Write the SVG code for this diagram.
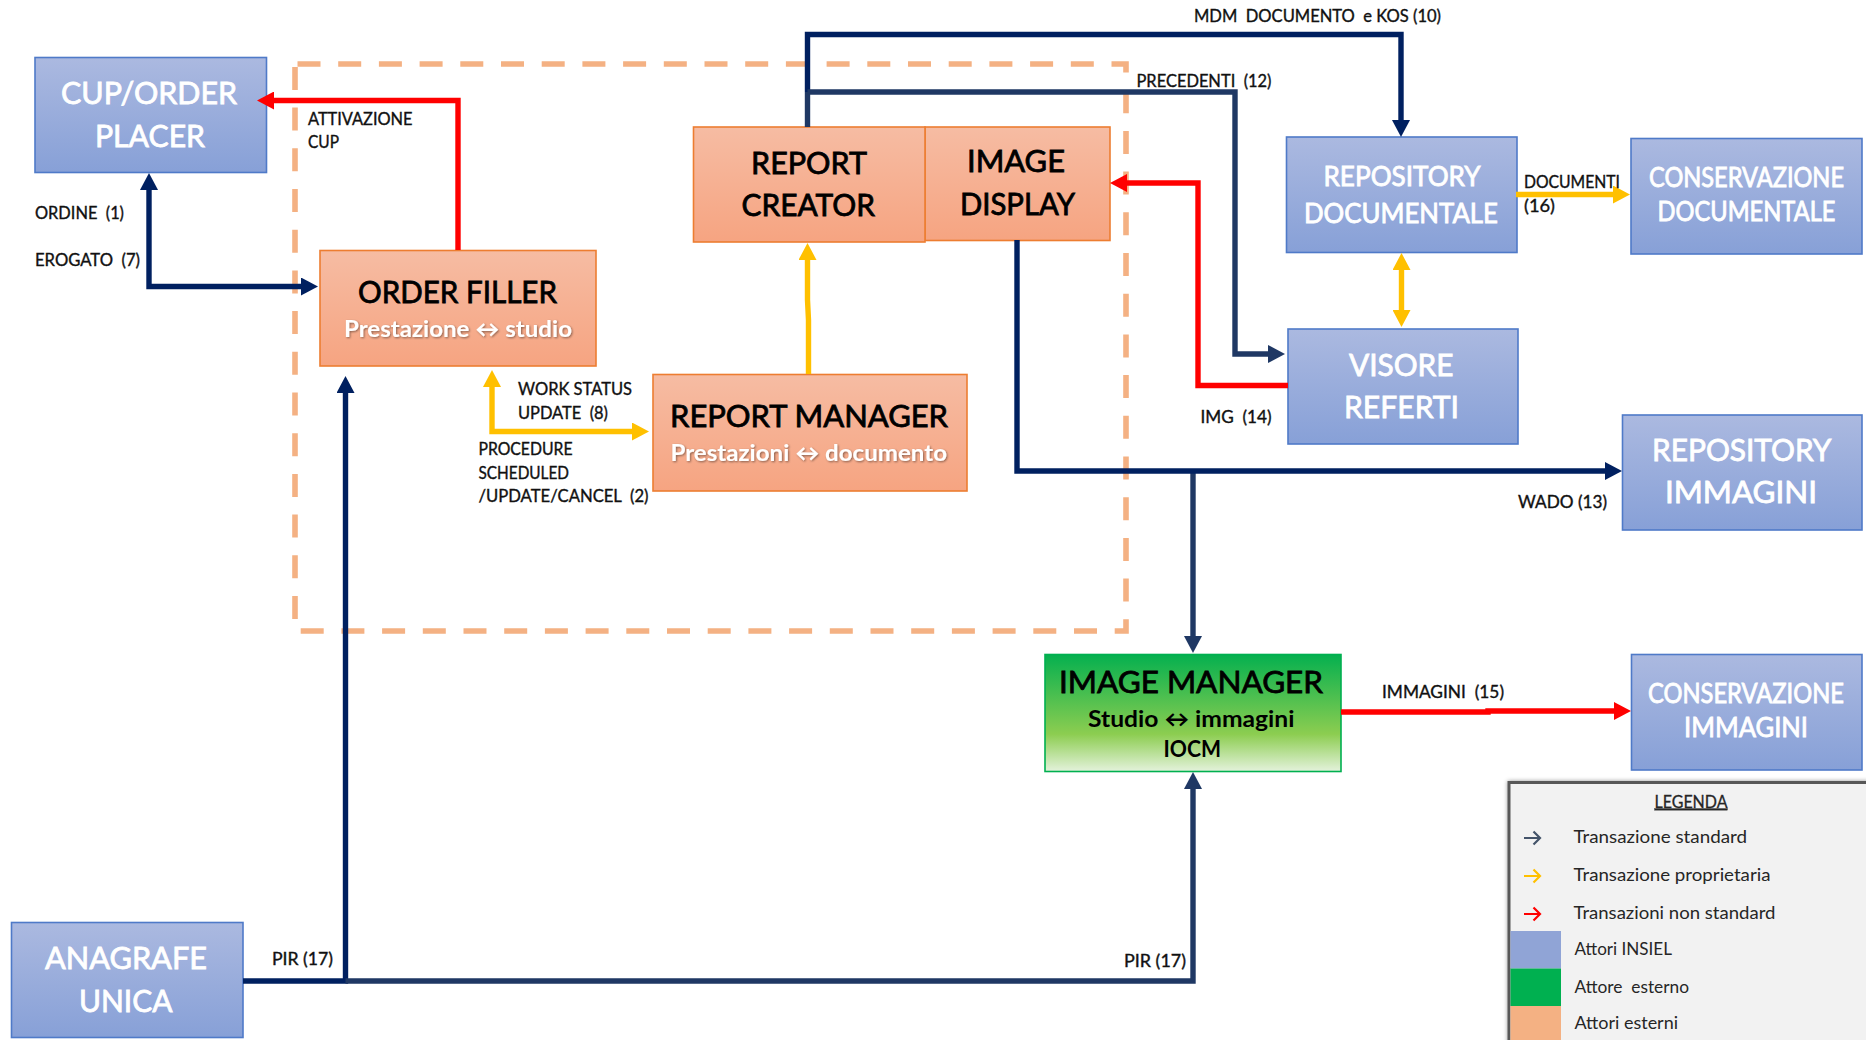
<svg xmlns="http://www.w3.org/2000/svg" width="1866" height="1040" viewBox="0 0 1866 1040">
<style>
text{font-family:"Lato","Open Sans","Liberation Sans",sans-serif;}
.box{stroke-width:1.6;}
.blue{fill:url(#gb);stroke:#4f7ac8;}
.orange{fill:url(#go);stroke:#ed7d31;}
.green{fill:url(#gg);stroke:#00b050;}
.w{fill:#fff;stroke:#fff;stroke-width:0.8;font-weight:400;}
.k{fill:#000;stroke:#000;stroke-width:0.8;font-weight:400;}
.sub{fill:#fff;font-size:22.5px;font-weight:700;filter:url(#sh);}
.l{fill:#111;stroke:#111;stroke-width:0.35;font-size:16.5px;font-weight:400;}
.lg{fill:#262626;font-size:17px;font-weight:400;}
.c{fill:none;stroke-width:5.4;}
.navy{stroke:#002060;}
.slate{stroke:#1f3864;}
.yel{stroke:#ffc000;}
.red{stroke:#ff0000;}
.chev{fill:none;stroke-width:2.2;}
</style>
<defs>
<linearGradient id="gb" x1="0" y1="0" x2="0" y2="1"><stop offset="0" stop-color="#abb9e0"/><stop offset="1" stop-color="#87a0d7"/></linearGradient>
<linearGradient id="go" x1="0" y1="0" x2="0" y2="1"><stop offset="0" stop-color="#f6bca3"/><stop offset="1" stop-color="#f6a481"/></linearGradient>
<linearGradient id="gg" x1="0" y1="0" x2="0" y2="1"><stop offset="0" stop-color="#05b04f"/><stop offset="0.68" stop-color="#8ccd50"/><stop offset="1" stop-color="#e4f2dc"/></linearGradient>
<filter id="sh" x="-10%" y="-30%" width="120%" height="160%"><feDropShadow dx="1" dy="1" stdDeviation="0.8" flood-color="#000" flood-opacity="0.45"/></filter>
<filter id="ls" x="-5%" y="-5%" width="110%" height="110%"><feDropShadow dx="0" dy="0" stdDeviation="2" flood-color="#000" flood-opacity="0.4"/></filter>
<marker id="an" markerUnits="userSpaceOnUse" markerWidth="18" markerHeight="18" refX="1" refY="9" orient="auto-start-reverse"><path d="M0 0L17 9L0 18Z" fill="#002060"/></marker>
<marker id="as" markerUnits="userSpaceOnUse" markerWidth="18" markerHeight="18" refX="1" refY="9" orient="auto-start-reverse"><path d="M0 0L17 9L0 18Z" fill="#1f3864"/></marker>
<marker id="ay" markerUnits="userSpaceOnUse" markerWidth="18" markerHeight="18" refX="1" refY="9" orient="auto-start-reverse"><path d="M0 0L17 9L0 18Z" fill="#ffc000"/></marker>
<marker id="ar" markerUnits="userSpaceOnUse" markerWidth="18" markerHeight="18" refX="1" refY="9" orient="auto-start-reverse"><path d="M0 0L17 9L0 18Z" fill="#ff0000"/></marker>
</defs>
<rect width="1866" height="1040" fill="#fff"/>
<g id="dashed-boundary"><path d="M297.500 64H1126V631H295V64" fill="none" stroke="#f4b183" stroke-width="5.6" stroke-dasharray="23 17.7"/></g>

<g id="cup-order-placer"><rect class="box blue" x="35" y="57.500" width="231.500" height="115"/>
<text class="w" font-size="30" x="61" y="104" textLength="176" lengthAdjust="spacingAndGlyphs">CUP/ORDER</text>
<text class="w" font-size="30" x="95" y="146.500" textLength="110" lengthAdjust="spacingAndGlyphs">PLACER</text></g>
<g id="order-filler"><rect class="box orange" x="320" y="250.500" width="276" height="115.500"/>
<text class="k" font-size="30" x="358" y="303" textLength="199" lengthAdjust="spacingAndGlyphs">ORDER FILLER</text>
<text class="sub" x="344" y="337" textLength="228" lengthAdjust="spacingAndGlyphs">Prestazione ↔ studio</text></g>
<g id="report-manager"><rect class="box orange" x="653" y="374.500" width="314" height="116.500"/>
<text class="k" font-size="30" x="670" y="427" textLength="278" lengthAdjust="spacingAndGlyphs">REPORT MANAGER</text>
<text class="sub" x="670.500" y="461" textLength="276.500" lengthAdjust="spacingAndGlyphs">Prestazioni ↔ documento</text></g>
<g id="image-display"><rect class="box orange" x="925" y="127" width="185" height="113.500"/>
<text class="k" font-size="30" x="967" y="172" textLength="98" lengthAdjust="spacingAndGlyphs">IMAGE</text>
<text class="k" font-size="30" x="960" y="215" textLength="115" lengthAdjust="spacingAndGlyphs">DISPLAY</text></g>
<g id="report-creator"><rect class="box orange" x="693.500" y="127" width="231.500" height="115"/>
<text class="k" font-size="30" x="751" y="174" textLength="116" lengthAdjust="spacingAndGlyphs">REPORT</text>
<text class="k" font-size="30" x="741.500" y="216" textLength="133.500" lengthAdjust="spacingAndGlyphs">CREATOR</text></g>
<g id="repository-documentale"><rect class="box blue" x="1286.500" y="137" width="230.500" height="115.500"/>
<text class="w" font-size="26" x="1323.500" y="186" textLength="157" lengthAdjust="spacingAndGlyphs">REPOSITORY</text>
<text class="w" font-size="26" x="1304" y="223" textLength="194" lengthAdjust="spacingAndGlyphs">DOCUMENTALE</text></g>
<g id="conservazione-documentale"><rect class="box blue" x="1631" y="138.500" width="231" height="115.500"/>
<text class="w" font-size="26" x="1649" y="187" textLength="195" lengthAdjust="spacingAndGlyphs">CONSERVAZIONE</text>
<text class="w" font-size="26" x="1657.500" y="220.500" textLength="178" lengthAdjust="spacingAndGlyphs">DOCUMENTALE</text></g>
<g id="visore-referti"><rect class="box blue" x="1288" y="329" width="230" height="115"/>
<text class="w" font-size="30" x="1349" y="375.500" textLength="104.500" lengthAdjust="spacingAndGlyphs">VISORE</text>
<text class="w" font-size="30" x="1344" y="418" textLength="115" lengthAdjust="spacingAndGlyphs">REFERTI</text></g>
<g id="repository-immagini"><rect class="box blue" x="1622.500" y="415" width="239.500" height="115"/>
<text class="w" font-size="30" x="1652" y="460.500" textLength="179.500" lengthAdjust="spacingAndGlyphs">REPOSITORY</text>
<text class="w" font-size="30" x="1665" y="502.500" textLength="152" lengthAdjust="spacingAndGlyphs">IMMAGINI</text></g>
<g id="image-manager"><rect class="box green" x="1045" y="654.500" width="296" height="117"/>
<text class="k" font-size="30" x="1059" y="692.500" textLength="264" lengthAdjust="spacingAndGlyphs">IMAGE MANAGER</text>
<text fill="#000" font-size="22.500" font-weight="700" x="1088" y="726.500" textLength="206.500" lengthAdjust="spacingAndGlyphs">Studio ↔ immagini</text>
<text fill="#000" font-size="22.500" font-weight="700" x="1163.500" y="757" textLength="57.500" lengthAdjust="spacingAndGlyphs">IOCM</text></g>
<g id="conservazione-immagini"><rect class="box blue" x="1631.500" y="654.500" width="230.500" height="115.500"/>
<text class="w" font-size="26" x="1648" y="703" textLength="196" lengthAdjust="spacingAndGlyphs">CONSERVAZIONE</text>
<text class="w" font-size="26" x="1684" y="736.500" textLength="124" lengthAdjust="spacingAndGlyphs">IMMAGINI</text></g>
<g id="anagrafe-unica"><rect class="box blue" x="11.500" y="922.500" width="231.500" height="115"/>
<text class="w" font-size="30" x="45" y="969" textLength="162" lengthAdjust="spacingAndGlyphs">ANAGRAFE</text>
<text class="w" font-size="30" x="79" y="1011.500" textLength="93.500" lengthAdjust="spacingAndGlyphs">UNICA</text></g>

<g id="connectors">
<path class="c red" d="M458 250V100.500H273" marker-end="url(#ar)"/>
<path class="c navy" d="M149 189V286.500H302" marker-start="url(#an)" marker-end="url(#an)"/>
<path class="c navy" d="M345.500 392V981H243" marker-start="url(#an)"/>
<path class="c slate" d="M345.500 981H1193V788" marker-end="url(#as)"/>
<path class="c yel" d="M492 386V431.500H633" marker-start="url(#ay)" marker-end="url(#ay)"/>
<path class="c yel" d="M808.500 374V320L807.500 300V259" marker-end="url(#ay)"/>
<path class="c slate" d="M807.500 127V92"/>
<path class="c navy" d="M807.500 92V34.500H1401V121" marker-end="url(#an)"/>
<path class="c slate" d="M807.500 92H1235V354H1269" marker-end="url(#as)"/>
<path class="c red" d="M1288 385.500H1198V183H1126" marker-end="url(#ar)"/>
<path class="c slate" d="M1193 471V637" marker-end="url(#as)"/>
<path class="c navy" d="M1017 240V471H1606" marker-end="url(#an)"/>
<path class="c yel" d="M1401.500 269V311" marker-start="url(#ay)" marker-end="url(#ay)"/>
<path class="c yel" d="M1516 194.500H1614" marker-end="url(#ay)"/>
<path class="c red" d="M1341 712H1488V711H1615" marker-end="url(#ar)"/>
</g>
<g id="connector-labels">
<text class="l" x="308" y="125" textLength="104.500" lengthAdjust="spacingAndGlyphs">ATTIVAZIONE</text>
<text class="l" x="308" y="148" textLength="31" lengthAdjust="spacingAndGlyphs">CUP</text>
<text class="l" x="35" y="219" textLength="89" lengthAdjust="spacingAndGlyphs" xml:space="preserve">ORDINE  (1)</text>
<text class="l" x="35" y="266" textLength="105" lengthAdjust="spacingAndGlyphs" xml:space="preserve">EROGATO  (7)</text>
<text class="l" x="518" y="395" textLength="114" lengthAdjust="spacingAndGlyphs">WORK STATUS</text>
<text class="l" x="518" y="419" textLength="90" lengthAdjust="spacingAndGlyphs" xml:space="preserve">UPDATE  (8)</text>
<text class="l" x="478.500" y="455" textLength="94" lengthAdjust="spacingAndGlyphs">PROCEDURE</text>
<text class="l" x="478.500" y="478.500" textLength="90.500" lengthAdjust="spacingAndGlyphs">SCHEDULED</text>
<text class="l" x="478.500" y="502" textLength="170" lengthAdjust="spacingAndGlyphs" xml:space="preserve">/UPDATE/CANCEL  (2)</text>
<text class="l" x="1194" y="21.500" textLength="247" lengthAdjust="spacingAndGlyphs" xml:space="preserve">MDM  DOCUMENTO  e KOS (10)</text>
<text class="l" x="1136.500" y="87" textLength="135" lengthAdjust="spacingAndGlyphs" xml:space="preserve">PRECEDENTI  (12)</text>
<text class="l" x="1200.500" y="423" textLength="71" lengthAdjust="spacingAndGlyphs" xml:space="preserve">IMG  (14)</text>
<text class="l" x="1524" y="187.500" textLength="96" lengthAdjust="spacingAndGlyphs">DOCUMENTI</text>
<text class="l" x="1524" y="211.500" textLength="31" lengthAdjust="spacingAndGlyphs">(16)</text>
<text class="l" x="1518" y="508" textLength="89" lengthAdjust="spacingAndGlyphs">WADO (13)</text>
<text class="l" x="1382" y="698" textLength="122" lengthAdjust="spacingAndGlyphs" xml:space="preserve">IMMAGINI  (15)</text>
<text class="l" x="272" y="965" textLength="61" lengthAdjust="spacingAndGlyphs">PIR (17)</text>
<text class="l" x="1124" y="966.500" textLength="62" lengthAdjust="spacingAndGlyphs">PIR (17)</text>
</g>

<g id="legend">
<rect x="1509" y="782.500" width="360" height="262" fill="#f2f2f2" stroke="#595959" stroke-width="3" filter="url(#ls)"/>
<rect x="1510.500" y="931" width="50.500" height="37.500" fill="#90a4d6"/>
<rect x="1510.500" y="968.500" width="50.500" height="37.500" fill="#00b050"/>
<rect x="1510.500" y="1006" width="50.500" height="34" fill="#f4b183"/>
<path class="chev" stroke="#44546a" d="M1524 838H1540M1533.500 831.500L1540 838L1533.500 844.500"/>
<path class="chev" stroke="#ffc000" d="M1524 876H1540M1533.500 869.500L1540 876L1533.500 882.500"/>
<path class="chev" stroke="#ff0000" d="M1524 914H1540M1533.500 907.500L1540 914L1533.500 920.500"/>
<text class="lg" font-weight="400" stroke="#262626" stroke-width="0.3" text-decoration="underline" x="1654.500" y="807.500" textLength="73" lengthAdjust="spacingAndGlyphs">LEGENDA</text>
<text class="lg" x="1573.500" y="843" textLength="173.500" lengthAdjust="spacingAndGlyphs">Transazione standard</text>
<text class="lg" x="1573.500" y="881" textLength="197" lengthAdjust="spacingAndGlyphs">Transazione proprietaria</text>
<text class="lg" x="1573.500" y="918.500" textLength="202" lengthAdjust="spacingAndGlyphs">Transazioni non standard</text>
<text class="lg" x="1574.500" y="955" textLength="97.500" lengthAdjust="spacingAndGlyphs">Attori INSIEL</text>
<text class="lg" x="1574.500" y="993" textLength="114.500" lengthAdjust="spacingAndGlyphs" xml:space="preserve">Attore  esterno</text>
<text class="lg" x="1574.500" y="1029" textLength="103.500" lengthAdjust="spacingAndGlyphs">Attori esterni</text>
</g>
</svg>
